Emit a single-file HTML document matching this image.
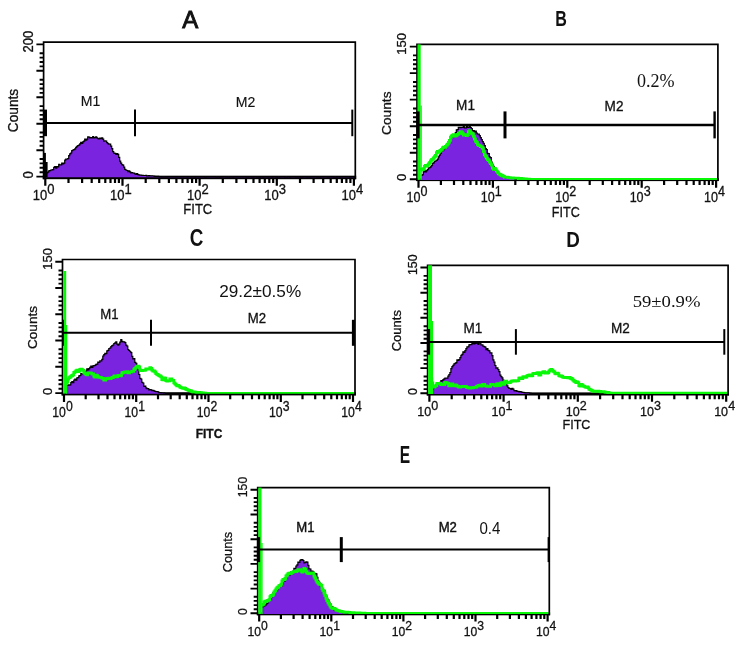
<!DOCTYPE html>
<html><head><meta charset="utf-8"><title>Flow cytometry histograms</title>
<style>
html,body{margin:0;padding:0;background:#fff;}
body{width:741px;height:651px;overflow:hidden;font-family:"Liberation Sans",sans-serif;}
svg{display:block;font-family:"Liberation Sans",sans-serif;fill:#111;will-change:transform;}
text{stroke:#111;stroke-width:0.3px;}
</style></head><body>
<svg width="741" height="651" viewBox="0 0 741 651">
<rect width="741" height="651" fill="#fff"/>
<rect x="42.8" y="175.7" width="313.4" height="3.5" fill="#000"/>
<path d="M45.7 177.3V172.4H46.7V172.9H47.7V172.2H48.7V170.8H49.7V170.7H50.7V170.0H51.7V169.9H52.7V169.7H53.7V167.4H54.7V166.7H55.7V168.1H56.7V166.6H57.7V166.8H58.7V164.3H59.7V164.9H60.7V165.0H61.7V163.0H62.7V164.0H63.7V163.1H64.7V160.1H65.7V159.1H66.7V159.0H67.7V158.6H68.7V155.7H69.7V153.9H70.7V153.0H71.7V150.6H72.7V150.0H73.7V149.6H74.7V148.9H75.7V147.3H76.7V146.4H77.7V145.5H78.7V145.2H79.7V143.9H80.7V142.3H81.7V143.4H82.7V141.8H83.7V141.1H84.7V139.0H85.7V140.1H86.7V139.1H87.7V136.9H88.7V137.2H89.7V137.8H90.7V137.5H91.7V137.8H92.7V136.5H93.7V137.8H94.7V137.6H95.7V136.8H96.7V137.8H97.7V138.7H98.7V138.8H99.7V138.2H100.7V138.7H101.7V137.9H102.7V139.1H103.7V141.2H104.7V140.9H105.7V141.0H106.7V142.6H107.7V143.6H108.7V144.2H109.7V144.2H110.7V146.2H111.7V148.6H112.7V151.6H113.7V153.2H114.7V153.4H115.7V154.3H116.7V153.7H117.7V154.3H118.7V157.3H119.7V161.1H120.7V163.1H121.7V164.7H122.7V165.2H123.7V167.1H124.7V169.4H125.7V170.0H126.7V170.5H127.7V171.7H128.7V170.9H129.7V171.8H130.7V172.9H131.7V172.7H132.7V173.0H133.7V173.2H134.7V173.9H135.7V174.5H136.7V173.7H137.7V174.7H138.7V174.9H139.7V175.1H140.7V175.1H141.7V175.4H142.7V175.4H143.7V175.5H144.7V175.5H145.7V175.3H146.7V175.8H147.7V175.8H148.7V175.6H149.7V175.9H150.7V175.9H151.7V175.9H152.7V176.0H153.7V176.1H154.7V176.3H155.7V176.3H156.7V176.4H157.7V176.4H158.7V176.5H159.7V176.6H160.7V176.7H161.7V176.8H162.7V176.8H163.7V176.8H164.7V176.8H165.7V176.7H166.7V176.8H167.7V176.7H168.7V176.6H169.7V176.6H170.7V176.6H171.7V176.7H172.7V176.7H173.7V176.6H174.7V176.7H175.7V176.7H176.7V176.6H177.7V176.6H178.7V176.7H179.7V176.6H180.7V176.7H181.7V176.7H182.7V176.7H183.7V176.7H184.7V176.7H185.7V176.6H186.7V176.7H187.7V176.7H188.7V176.6H189.7V176.6H190.7V176.8H191.7V176.7H192.7V176.6H193.7V176.7H194.7V176.8H195.7V176.6H196.7V176.6H197.7V176.6H198.7V176.7H199.7V176.6H200.7V176.7H201.7V176.7H202.7V176.7H203.7V176.6H204.7V176.8H205.7V176.8H206.7V176.7H207.7V176.6H208.7V176.7H209.7V176.7H210.7V176.7H211.7V176.7H212.7V176.7H213.7V176.6H214.7V176.7H215.7V176.8H216.7V176.8H217.7V176.7H218.7V176.8H219.7V176.7H220.7V176.8H221.7V176.7H222.7V176.7H223.7V176.7H224.7V176.6H225.7V176.8H226.7V176.6H227.7V176.8H228.7V176.8H229.7V176.7H230.7V176.6H231.7V176.8H232.7V176.8H233.7V176.7H234.7V176.7H235.7V176.7H236.7V176.7H237.7V176.6H238.7V176.7H239.7V176.7H240.7V176.6H241.7V176.6H242.7V176.7H243.7V176.7H244.7V176.7H245.7V176.7H246.7V176.8H247.7V176.8H248.7V176.6H249.7V176.6H250.7V176.7H251.7V176.8H252.7V176.8H253.7V176.7H254.7V176.6H255.7V176.7H256.7V176.8H257.7V176.8H258.7V176.7H259.7V176.8H260.7V176.7H261.7V176.7H262.7V176.8H263.7V176.7H264.7V176.7H265.7V176.6H266.7V176.6H267.7V176.8H268.7V176.6H269.7V176.7H270.7V176.7H271.7V176.8H272.7V176.7H273.7V176.7H274.7V176.7H275.7V176.8H276.7V176.7H277.7V176.8H278.7V176.8H279.7V176.6H280.7V176.7H281.7V176.6H282.7V176.6H283.7V176.6H284.7V176.8H285.7V176.8H286.7V176.8H287.7V176.7H288.7V176.7H289.7V176.8H290.7V176.7H291.7V176.7H292.7V176.6H293.7V176.6H294.7V176.7H295.7V176.8H296.7V176.7H297.7V176.8H298.7V176.7H299.7V176.7H300.7V176.8H301.7V176.8H302.7V176.6H303.7V176.7H304.7V176.6H305.7V176.6H306.7V176.8H307.7V176.6H308.7V176.7H309.7V176.8H310.7V176.7H311.7V176.6H312.7V176.6H313.7V176.7H314.7V176.7H315.7V176.6H316.7V176.8H317.7V176.7H318.7V176.8H319.7V176.8H320.7V176.7H321.7V176.7H322.7V176.7H323.7V176.6H324.7V176.7H325.7V176.6H326.7V176.6H327.7V176.8H328.7V176.7H329.7V176.7H330.7V176.7H331.7V176.7H332.7V176.6H333.7V176.8H334.7V176.8H335.7V176.8H336.7V176.6H337.7V176.6H338.7V176.7H339.7V176.8H340.7V176.7H341.7V176.7H342.7V176.7H343.7V176.7H344.7V176.7H345.7V176.7H346.7V176.7H347.7V176.6H348.7V176.7H349.7V176.8H350.7V176.7H351.7V176.7H352.7V176.7H353.7V176.8V177.3 Z" fill="#7a24e0" stroke="none"/>
<path d="M45.7 172.4H46.7V172.9H47.7V172.2H48.7V170.8H49.7V170.7H50.7V170.0H51.7V169.9H52.7V169.7H53.7V167.4H54.7V166.7H55.7V168.1H56.7V166.6H57.7V166.8H58.7V164.3H59.7V164.9H60.7V165.0H61.7V163.0H62.7V164.0H63.7V163.1H64.7V160.1H65.7V159.1H66.7V159.0H67.7V158.6H68.7V155.7H69.7V153.9H70.7V153.0H71.7V150.6H72.7V150.0H73.7V149.6H74.7V148.9H75.7V147.3H76.7V146.4H77.7V145.5H78.7V145.2H79.7V143.9H80.7V142.3H81.7V143.4H82.7V141.8H83.7V141.1H84.7V139.0H85.7V140.1H86.7V139.1H87.7V136.9H88.7V137.2H89.7V137.8H90.7V137.5H91.7V137.8H92.7V136.5H93.7V137.8H94.7V137.6H95.7V136.8H96.7V137.8H97.7V138.7H98.7V138.8H99.7V138.2H100.7V138.7H101.7V137.9H102.7V139.1H103.7V141.2H104.7V140.9H105.7V141.0H106.7V142.6H107.7V143.6H108.7V144.2H109.7V144.2H110.7V146.2H111.7V148.6H112.7V151.6H113.7V153.2H114.7V153.4H115.7V154.3H116.7V153.7H117.7V154.3H118.7V157.3H119.7V161.1H120.7V163.1H121.7V164.7H122.7V165.2H123.7V167.1H124.7V169.4H125.7V170.0H126.7V170.5H127.7V171.7H128.7V170.9H129.7V171.8H130.7V172.9H131.7V172.7H132.7V173.0H133.7V173.2H134.7V173.9H135.7V174.5H136.7V173.7H137.7V174.7H138.7V174.9H139.7V175.1H140.7V175.1H141.7V175.4H142.7V175.4H143.7V175.5H144.7V175.5H145.7V175.3H146.7V175.8H147.7V175.8H148.7V175.6H149.7V175.9H150.7V175.9H151.7V175.9H152.7V176.0H153.7V176.1H154.7V176.3H155.7V176.3H156.7V176.4H157.7V176.4H158.7V176.5H159.7V176.6H160.7V176.7H161.7V176.8H162.7V176.8H163.7V176.8H164.7V176.8H165.7V176.7H166.7V176.8H167.7V176.7H168.7V176.6H169.7V176.6H170.7V176.6H171.7V176.7H172.7V176.7H173.7V176.6H174.7V176.7H175.7V176.7H176.7V176.6H177.7V176.6H178.7V176.7H179.7V176.6H180.7V176.7H181.7V176.7H182.7V176.7H183.7V176.7H184.7V176.7H185.7V176.6H186.7V176.7H187.7V176.7H188.7V176.6H189.7V176.6H190.7V176.8H191.7V176.7H192.7V176.6H193.7V176.7H194.7V176.8H195.7V176.6H196.7V176.6H197.7V176.6H198.7V176.7H199.7V176.6H200.7V176.7H201.7V176.7H202.7V176.7H203.7V176.6H204.7V176.8H205.7V176.8H206.7V176.7H207.7V176.6H208.7V176.7H209.7V176.7H210.7V176.7H211.7V176.7H212.7V176.7H213.7V176.6H214.7V176.7H215.7V176.8H216.7V176.8H217.7V176.7H218.7V176.8H219.7V176.7H220.7V176.8H221.7V176.7H222.7V176.7H223.7V176.7H224.7V176.6H225.7V176.8H226.7V176.6H227.7V176.8H228.7V176.8H229.7V176.7H230.7V176.6H231.7V176.8H232.7V176.8H233.7V176.7H234.7V176.7H235.7V176.7H236.7V176.7H237.7V176.6H238.7V176.7H239.7V176.7H240.7V176.6H241.7V176.6H242.7V176.7H243.7V176.7H244.7V176.7H245.7V176.7H246.7V176.8H247.7V176.8H248.7V176.6H249.7V176.6H250.7V176.7H251.7V176.8H252.7V176.8H253.7V176.7H254.7V176.6H255.7V176.7H256.7V176.8H257.7V176.8H258.7V176.7H259.7V176.8H260.7V176.7H261.7V176.7H262.7V176.8H263.7V176.7H264.7V176.7H265.7V176.6H266.7V176.6H267.7V176.8H268.7V176.6H269.7V176.7H270.7V176.7H271.7V176.8H272.7V176.7H273.7V176.7H274.7V176.7H275.7V176.8H276.7V176.7H277.7V176.8H278.7V176.8H279.7V176.6H280.7V176.7H281.7V176.6H282.7V176.6H283.7V176.6H284.7V176.8H285.7V176.8H286.7V176.8H287.7V176.7H288.7V176.7H289.7V176.8H290.7V176.7H291.7V176.7H292.7V176.6H293.7V176.6H294.7V176.7H295.7V176.8H296.7V176.7H297.7V176.8H298.7V176.7H299.7V176.7H300.7V176.8H301.7V176.8H302.7V176.6H303.7V176.7H304.7V176.6H305.7V176.6H306.7V176.8H307.7V176.6H308.7V176.7H309.7V176.8H310.7V176.7H311.7V176.6H312.7V176.6H313.7V176.7H314.7V176.7H315.7V176.6H316.7V176.8H317.7V176.7H318.7V176.8H319.7V176.8H320.7V176.7H321.7V176.7H322.7V176.7H323.7V176.6H324.7V176.7H325.7V176.6H326.7V176.6H327.7V176.8H328.7V176.7H329.7V176.7H330.7V176.7H331.7V176.7H332.7V176.6H333.7V176.8H334.7V176.8H335.7V176.8H336.7V176.6H337.7V176.6H338.7V176.7H339.7V176.8H340.7V176.7H341.7V176.7H342.7V176.7H343.7V176.7H344.7V176.7H345.7V176.7H346.7V176.7H347.7V176.6H348.7V176.7H349.7V176.8H350.7V176.7H351.7V176.7H352.7V176.7H353.7V176.8" fill="none" stroke="#000" stroke-width="1.2"/>
<path d="M43.6 179.2 V42.2 H355.3 V179.2" fill="none" stroke="#000" stroke-width="1.70"/>
<path d="M45.3 178.7 V185.8M68.5 178.7 V183.1M82.1 178.7 V183.1M91.7 178.7 V183.1M99.2 178.7 V183.1M105.3 178.7 V183.1M110.5 178.7 V183.1M115.0 178.7 V183.1M118.9 178.7 V183.1M122.5 178.7 V185.8M145.7 178.7 V183.1M159.3 178.7 V183.1M168.9 178.7 V183.1M176.4 178.7 V183.1M182.5 178.7 V183.1M187.6 178.7 V183.1M192.1 178.7 V183.1M196.1 178.7 V183.1M199.6 178.7 V185.8M222.8 178.7 V183.1M236.4 178.7 V183.1M246.0 178.7 V183.1M253.5 178.7 V183.1M259.6 178.7 V183.1M264.8 178.7 V183.1M269.3 178.7 V183.1M273.2 178.7 V183.1M276.8 178.7 V185.8M300.0 178.7 V183.1M313.6 178.7 V183.1M323.2 178.7 V183.1M330.7 178.7 V183.1M336.8 178.7 V183.1M341.9 178.7 V183.1M346.4 178.7 V183.1M350.4 178.7 V183.1M353.9 178.7 V185.8" stroke="#000" stroke-width="2.20" fill="none"/>
<text transform="translate(32.80 200.10) scale(0.930 1.001)" font-size="14" text-anchor="start">10</text>
<text transform="translate(47.30 193.80) scale(0.930 1.001)" font-size="14" text-anchor="start">0</text>
<text transform="translate(109.95 200.10) scale(0.930 1.001)" font-size="14" text-anchor="start">10</text>
<text transform="translate(124.45 193.80) scale(0.930 1.001)" font-size="14" text-anchor="start">1</text>
<text transform="translate(187.10 200.10) scale(0.930 1.001)" font-size="14" text-anchor="start">10</text>
<text transform="translate(201.60 193.80) scale(0.930 1.001)" font-size="14" text-anchor="start">2</text>
<text transform="translate(264.25 200.10) scale(0.930 1.001)" font-size="14" text-anchor="start">10</text>
<text transform="translate(278.75 193.80) scale(0.930 1.001)" font-size="14" text-anchor="start">3</text>
<text transform="translate(341.40 200.10) scale(0.930 1.001)" font-size="14" text-anchor="start">10</text>
<text transform="translate(355.90 193.80) scale(0.930 1.001)" font-size="14" text-anchor="start">4</text>
<path d="M43.6 176.6 h-7.2M43.6 172.2 h-4.0M43.6 167.8 h-4.0M43.6 163.4 h-4.0M43.6 159.0 h-4.0M43.6 150.2 h-7.2M43.6 145.8 h-4.0M43.6 141.3 h-4.0M43.6 136.9 h-4.0M43.6 132.5 h-4.0M43.6 123.7 h-7.2M43.6 119.3 h-4.0M43.6 114.9 h-4.0M43.6 110.5 h-4.0M43.6 106.1 h-4.0M43.6 97.3 h-7.2M43.6 92.9 h-4.0M43.6 88.5 h-4.0M43.6 84.1 h-4.0M43.6 79.7 h-4.0M43.6 70.8 h-7.2M43.6 66.4 h-4.0M43.6 62.0 h-4.0M43.6 57.6 h-4.0M43.6 53.2 h-4.0M43.6 44.4 h-7.2" stroke="#000" stroke-width="1.90" fill="none"/>
<text transform="translate(32.60 41.60) scale(1.000 0.931) rotate(-90)" font-size="14" text-anchor="middle">200</text>
<text transform="translate(32.60 174.90) scale(1.000 0.931) rotate(-90)" font-size="14" text-anchor="middle">0</text>
<text transform="translate(17.50 110.50) scale(1.000 0.977) rotate(-90)" font-size="14" text-anchor="middle">Counts</text>
<rect x="43.4" y="152.9" width="2.5" height="24.4" fill="#000"/>
<rect x="43.4" y="162.0" width="4.2" height="15.3" fill="#000"/>
<path d="M45.2 122.9 H352.3" stroke="#000" stroke-width="2.00"/>
<path d="M45.2 109.6 v26.6" stroke="#000" stroke-width="3.6"/>
<path d="M135.0 109.6 v26.6" stroke="#000" stroke-width="2.00"/>
<path d="M352.3 109.6 v26.6" stroke="#000" stroke-width="2.0"/>
<text transform="translate(90.50 106.00) scale(1.005 1.051)" font-size="14" text-anchor="middle" style="stroke-width:0.15px">M1</text>
<text transform="translate(245.50 106.50) scale(1.005 1.051)" font-size="14" text-anchor="middle" style="stroke-width:0.15px">M2</text>
<text transform="translate(197.80 214.00) scale(0.930 1.001)" font-size="14" text-anchor="middle">FITC</text>
<rect x="416.1" y="178.3" width="302.6" height="2.8" fill="#000"/>
<path d="M421.3 179.9V175.4H422.3V174.6H423.3V171.8H424.3V170.9H425.3V171.9H426.3V170.7H427.3V169.7H428.3V167.9H429.3V167.7H430.3V166.8H431.3V165.7H432.3V163.4H433.3V162.8H434.3V161.4H435.3V161.0H436.3V160.4H437.3V159.1H438.3V156.8H439.3V155.2H440.3V153.3H441.3V151.4H442.3V150.0H443.3V149.7H444.3V147.9H445.3V146.7H446.3V146.6H447.3V144.3H448.3V142.9H449.3V140.5H450.3V138.4H451.3V137.5H452.3V135.5H453.3V134.8H454.3V134.7H455.3V132.5H456.3V129.8H457.3V129.5H458.3V127.4H459.3V127.3H460.3V127.7H461.3V127.4H462.3V127.4H463.3V126.3H464.3V127.9H465.3V127.9H466.3V125.9H467.3V127.3H468.3V127.2H469.3V126.6H470.3V127.5H471.3V128.7H472.3V131.0H473.3V130.6H474.3V131.9H475.3V131.2H476.3V133.0H477.3V134.2H478.3V134.2H479.3V135.7H480.3V137.7H481.3V139.6H482.3V141.7H483.3V143.3H484.3V145.7H485.3V148.7H486.3V149.5H487.3V153.3H488.3V153.5H489.3V156.9H490.3V157.5H491.3V162.0H492.3V164.3H493.3V166.4H494.3V167.9H495.3V169.8H496.3V171.1H497.3V171.9H498.3V173.3H499.3V174.8H500.3V175.8H501.3V175.7H502.3V175.4H503.3V176.7H504.3V176.9H505.3V177.4H506.3V177.2H507.3V177.8H508.3V177.4H509.3V178.0H510.3V177.9H511.3V178.0H512.3V178.4H513.3V178.2H514.3V178.5V179.9 Z" fill="#7a24e0" stroke="none"/>
<path d="M421.3 175.4H422.3V174.6H423.3V171.8H424.3V170.9H425.3V171.9H426.3V170.7H427.3V169.7H428.3V167.9H429.3V167.7H430.3V166.8H431.3V165.7H432.3V163.4H433.3V162.8H434.3V161.4H435.3V161.0H436.3V160.4H437.3V159.1H438.3V156.8H439.3V155.2H440.3V153.3H441.3V151.4H442.3V150.0H443.3V149.7H444.3V147.9H445.3V146.7H446.3V146.6H447.3V144.3H448.3V142.9H449.3V140.5H450.3V138.4H451.3V137.5H452.3V135.5H453.3V134.8H454.3V134.7H455.3V132.5H456.3V129.8H457.3V129.5H458.3V127.4H459.3V127.3H460.3V127.7H461.3V127.4H462.3V127.4H463.3V126.3H464.3V127.9H465.3V127.9H466.3V125.9H467.3V127.3H468.3V127.2H469.3V126.6H470.3V127.5H471.3V128.7H472.3V131.0H473.3V130.6H474.3V131.9H475.3V131.2H476.3V133.0H477.3V134.2H478.3V134.2H479.3V135.7H480.3V137.7H481.3V139.6H482.3V141.7H483.3V143.3H484.3V145.7H485.3V148.7H486.3V149.5H487.3V153.3H488.3V153.5H489.3V156.9H490.3V157.5H491.3V162.0H492.3V164.3H493.3V166.4H494.3V167.9H495.3V169.8H496.3V171.1H497.3V171.9H498.3V173.3H499.3V174.8H500.3V175.8H501.3V175.7H502.3V175.4H503.3V176.7H504.3V176.9H505.3V177.4H506.3V177.2H507.3V177.8H508.3V177.4H509.3V178.0H510.3V177.9H511.3V178.0H512.3V178.4H513.3V178.2H514.3V178.5" fill="none" stroke="#000" stroke-width="1.2"/>
<path d="M417.0 181.1 V44.4 H717.9 V181.1" fill="none" stroke="#000" stroke-width="1.70"/>
<path d="M418.5 180.6 V187.7M440.9 180.6 V185.0M454.0 180.6 V185.0M463.3 180.6 V185.0M470.5 180.6 V185.0M476.4 180.6 V185.0M481.4 180.6 V185.0M485.7 180.6 V185.0M489.5 180.6 V185.0M492.9 180.6 V187.7M515.3 180.6 V185.0M528.4 180.6 V185.0M537.7 180.6 V185.0M544.9 180.6 V185.0M550.8 180.6 V185.0M555.8 180.6 V185.0M560.1 180.6 V185.0M563.9 180.6 V185.0M567.3 180.6 V187.7M589.7 180.6 V185.0M602.8 180.6 V185.0M612.1 180.6 V185.0M619.3 180.6 V185.0M625.2 180.6 V185.0M630.2 180.6 V185.0M634.5 180.6 V185.0M638.3 180.6 V185.0M641.7 180.6 V187.7M664.1 180.6 V185.0M677.2 180.6 V185.0M686.5 180.6 V185.0M693.7 180.6 V185.0M699.6 180.6 V185.0M704.6 180.6 V185.0M708.9 180.6 V185.0M712.7 180.6 V185.0M716.1 180.6 V187.7" stroke="#000" stroke-width="2.20" fill="none"/>
<text transform="translate(406.43 202.00) scale(0.898 1.004)" font-size="14" text-anchor="start">10</text>
<text transform="translate(420.43 195.68) scale(0.898 1.004)" font-size="14" text-anchor="start">0</text>
<text transform="translate(480.83 202.00) scale(0.898 1.004)" font-size="14" text-anchor="start">10</text>
<text transform="translate(494.83 195.68) scale(0.898 1.004)" font-size="14" text-anchor="start">1</text>
<text transform="translate(555.23 202.00) scale(0.898 1.004)" font-size="14" text-anchor="start">10</text>
<text transform="translate(569.23 195.68) scale(0.898 1.004)" font-size="14" text-anchor="start">2</text>
<text transform="translate(629.63 202.00) scale(0.898 1.004)" font-size="14" text-anchor="start">10</text>
<text transform="translate(643.63 195.68) scale(0.898 1.004)" font-size="14" text-anchor="start">3</text>
<text transform="translate(704.03 202.00) scale(0.898 1.004)" font-size="14" text-anchor="start">10</text>
<text transform="translate(718.03 195.68) scale(0.898 1.004)" font-size="14" text-anchor="start">4</text>
<path d="M417.0 179.2 h-7.2M417.0 174.8 h-4.0M417.0 170.4 h-4.0M417.0 165.9 h-4.0M417.0 161.5 h-4.0M417.0 152.7 h-7.2M417.0 148.3 h-4.0M417.0 143.8 h-4.0M417.0 139.4 h-4.0M417.0 135.0 h-4.0M417.0 126.2 h-7.2M417.0 121.7 h-4.0M417.0 117.3 h-4.0M417.0 112.9 h-4.0M417.0 108.5 h-4.0M417.0 99.6 h-7.2M417.0 95.2 h-4.0M417.0 90.8 h-4.0M417.0 86.4 h-4.0M417.0 82.0 h-4.0M417.0 73.1 h-7.2M417.0 68.7 h-4.0M417.0 64.3 h-4.0M417.0 59.9 h-4.0M417.0 55.4 h-4.0M417.0 46.6 h-7.2" stroke="#000" stroke-width="1.90" fill="none"/>
<text transform="translate(406.20 43.80) scale(0.966 0.933) rotate(-90)" font-size="14" text-anchor="middle">150</text>
<text transform="translate(406.20 177.50) scale(0.966 0.933) rotate(-90)" font-size="14" text-anchor="middle">0</text>
<text transform="translate(390.50 113.20) scale(0.966 0.980) rotate(-90)" font-size="14" text-anchor="middle">Counts</text>
<clipPath id="clipB"><rect x="414.0" y="41.4" width="306.9" height="138.5"/></clipPath>
<g clip-path="url(#clipB)">
<path d="M420.4 170.0H421.4V169.1H422.4V169.5H423.4V168.6H424.4V166.3H425.4V165.3H426.4V166.0H427.4V165.1H428.4V163.8H429.4V162.7H430.4V160.9H431.4V159.7H432.4V159.2H433.4V158.0H434.4V156.7H435.4V155.5H436.4V152.7H437.4V151.5H438.4V152.0H439.4V151.0H440.4V150.3H441.4V149.3H442.4V148.0H443.4V147.1H444.4V147.3H445.4V146.4H446.4V145.1H447.4V144.2H448.4V142.3H449.4V140.3H450.4V137.2H451.4V135.8H452.4V135.1H453.4V134.6H454.4V136.2H455.4V135.8H456.4V135.0H457.4V134.4H458.4V133.5H459.4V132.8H460.4V131.7H461.4V132.1H462.4V133.7H463.4V135.2H464.4V134.7H465.4V134.7H466.4V135.6H467.4V134.8H468.4V131.6H469.4V130.7H470.4V132.7H471.4V133.3H472.4V133.9H473.4V136.4H474.4V139.0H475.4V141.4H476.4V142.4H477.4V144.6H478.4V145.3H479.4V145.6H480.4V146.6H481.4V146.9H482.4V148.2H483.4V151.6H484.4V154.8H485.4V156.3H486.4V158.2H487.4V159.6H488.4V160.3H489.4V162.0H490.4V163.6H491.4V165.2H492.4V168.0H493.4V169.3H494.4V168.4H495.4V169.7H496.4V171.2H497.4V172.3H498.4V173.8H499.4V174.3H500.4V175.0H501.4V175.5H502.4V175.8H503.4V176.4H504.4V177.1H505.4V177.2H506.4V177.2H507.4V177.3H508.4V177.6H509.4V177.7H510.4V177.9H511.4V178.0H512.4V178.0H513.4V178.1H514.4V178.1H515.4V178.1H516.4V178.1H517.4V178.2H518.4V178.5H519.4V178.6H520.4V178.5H521.4V178.6H522.4V178.7H523.4V178.8H524.4V179.0H525.4V179.0H526.4V179.1H527.4V179.2H528.4V179.2H529.4V179.3H717.0" fill="none" stroke="#08f808" stroke-width="2.8" stroke-linejoin="miter"/>
<rect x="417.6" y="44.4" width="3.1" height="135.5" fill="#08f808"/>
<rect x="420.5" y="105.6" width="1.3" height="74.3" fill="#08f808"/>
</g>
<path d="M418.0 124.9 H714.6" stroke="#000" stroke-width="2.50"/>
<path d="M418.0 111.4 v27.0" stroke="#000" stroke-width="3.2"/>
<path d="M505.0 111.4 v27.0" stroke="#000" stroke-width="3.00"/>
<path d="M714.6 111.4 v27.0" stroke="#000" stroke-width="2.4"/>
<text transform="translate(465.50 110.00) scale(0.970 1.054)" font-size="14" text-anchor="middle" style="stroke-width:0.3px">M1</text>
<text transform="translate(614.00 111.00) scale(0.970 1.054)" font-size="14" text-anchor="middle" style="stroke-width:0.3px">M2</text>
<text transform="translate(565.80 217.00) scale(0.898 1.004)" font-size="14" text-anchor="middle">FITC</text>
<text x="637" y="86.6" font-family="Liberation Serif" font-size="18" textLength="37.6" lengthAdjust="spacingAndGlyphs" style="stroke-width:0">0.2%</text>
<rect x="61.6" y="392.2" width="294.2" height="3.2" fill="#000"/>
<path d="M65.8 393.8V384.9H66.8V385.5H67.8V384.8H68.8V385.1H69.8V384.9H70.8V382.7H71.8V381.6H72.8V382.7H73.8V380.2H74.8V379.2H75.8V380.1H76.8V377.8H77.8V377.7H78.8V375.8H79.8V375.5H80.8V373.5H81.8V374.0H82.8V373.8H83.8V372.2H84.8V372.0H85.8V371.0H86.8V368.8H87.8V369.8H88.8V368.7H89.8V367.3H90.8V366.0H91.8V367.4H92.8V365.8H93.8V365.7H94.8V365.4H95.8V364.3H96.8V364.2H97.8V362.2H98.8V362.5H99.8V360.9H100.8V361.0H101.8V359.4H102.8V356.0H103.8V354.6H104.8V353.3H105.8V353.7H106.8V350.8H107.8V350.3H108.8V348.5H109.8V348.0H110.8V346.7H111.8V345.6H112.8V345.0H113.8V343.5H114.8V342.9H115.8V341.9H116.8V344.2H117.8V345.1H118.8V344.2H119.8V342.1H120.8V339.5H121.8V341.3H122.8V341.8H123.8V341.8H124.8V342.6H125.8V345.1H126.8V346.0H127.8V349.5H128.8V350.5H129.8V351.5H130.8V352.7H131.8V356.4H132.8V358.8H133.8V358.5H134.8V362.3H135.8V363.4H136.8V365.9H137.8V369.8H138.8V374.5H139.8V378.3H140.8V379.0H141.8V382.4H142.8V383.0H143.8V386.3H144.8V386.0H145.8V387.9H146.8V388.7H147.8V388.5H148.8V389.9H149.8V389.6H150.8V389.8H151.8V390.6H152.8V390.3H153.8V390.8H154.8V391.3H155.8V391.7H156.8V391.7H157.8V391.9H158.8V392.6H159.8V392.5H160.8V392.9H161.8V393.0H162.8V393.0H163.8V393.1H164.8V393.3V393.8 Z" fill="#7a24e0" stroke="none"/>
<path d="M65.8 384.9H66.8V385.5H67.8V384.8H68.8V385.1H69.8V384.9H70.8V382.7H71.8V381.6H72.8V382.7H73.8V380.2H74.8V379.2H75.8V380.1H76.8V377.8H77.8V377.7H78.8V375.8H79.8V375.5H80.8V373.5H81.8V374.0H82.8V373.8H83.8V372.2H84.8V372.0H85.8V371.0H86.8V368.8H87.8V369.8H88.8V368.7H89.8V367.3H90.8V366.0H91.8V367.4H92.8V365.8H93.8V365.7H94.8V365.4H95.8V364.3H96.8V364.2H97.8V362.2H98.8V362.5H99.8V360.9H100.8V361.0H101.8V359.4H102.8V356.0H103.8V354.6H104.8V353.3H105.8V353.7H106.8V350.8H107.8V350.3H108.8V348.5H109.8V348.0H110.8V346.7H111.8V345.6H112.8V345.0H113.8V343.5H114.8V342.9H115.8V341.9H116.8V344.2H117.8V345.1H118.8V344.2H119.8V342.1H120.8V339.5H121.8V341.3H122.8V341.8H123.8V341.8H124.8V342.6H125.8V345.1H126.8V346.0H127.8V349.5H128.8V350.5H129.8V351.5H130.8V352.7H131.8V356.4H132.8V358.8H133.8V358.5H134.8V362.3H135.8V363.4H136.8V365.9H137.8V369.8H138.8V374.5H139.8V378.3H140.8V379.0H141.8V382.4H142.8V383.0H143.8V386.3H144.8V386.0H145.8V387.9H146.8V388.7H147.8V388.5H148.8V389.9H149.8V389.6H150.8V389.8H151.8V390.6H152.8V390.3H153.8V390.8H154.8V391.3H155.8V391.7H156.8V391.7H157.8V391.9H158.8V392.6H159.8V392.5H160.8V392.9H161.8V393.0H162.8V393.0H163.8V393.1H164.8V393.3" fill="none" stroke="#000" stroke-width="1.2"/>
<path d="M62.5 395.4 V259.5 H355.0 V395.4" fill="none" stroke="#000" stroke-width="1.70"/>
<path d="M64.0 394.9 V402.0M85.7 394.9 V399.3M98.5 394.9 V399.3M107.5 394.9 V399.3M114.5 394.9 V399.3M120.2 394.9 V399.3M125.1 394.9 V399.3M129.2 394.9 V399.3M132.9 394.9 V399.3M136.2 394.9 V402.0M158.0 394.9 V399.3M170.7 394.9 V399.3M179.7 394.9 V399.3M186.8 394.9 V399.3M192.5 394.9 V399.3M197.3 394.9 V399.3M201.5 394.9 V399.3M205.2 394.9 V399.3M208.5 394.9 V402.0M230.2 394.9 V399.3M243.0 394.9 V399.3M252.0 394.9 V399.3M259.0 394.9 V399.3M264.7 394.9 V399.3M269.6 394.9 V399.3M273.7 394.9 V399.3M277.4 394.9 V399.3M280.8 394.9 V402.0M302.5 394.9 V399.3M315.2 394.9 V399.3M324.2 394.9 V399.3M331.3 394.9 V399.3M337.0 394.9 V399.3M341.8 394.9 V399.3M346.0 394.9 V399.3M349.7 394.9 V399.3M353.0 394.9 V402.0" stroke="#000" stroke-width="2.20" fill="none"/>
<text transform="translate(52.27 416.80) scale(0.873 0.995)" font-size="14" text-anchor="start">10</text>
<text transform="translate(65.88 410.53) scale(0.873 0.995)" font-size="14" text-anchor="start">0</text>
<text transform="translate(124.52 416.80) scale(0.873 0.995)" font-size="14" text-anchor="start">10</text>
<text transform="translate(138.13 410.53) scale(0.873 0.995)" font-size="14" text-anchor="start">1</text>
<text transform="translate(196.77 416.80) scale(0.873 0.995)" font-size="14" text-anchor="start">10</text>
<text transform="translate(210.38 410.53) scale(0.873 0.995)" font-size="14" text-anchor="start">2</text>
<text transform="translate(269.02 416.80) scale(0.873 0.995)" font-size="14" text-anchor="start">10</text>
<text transform="translate(282.63 410.53) scale(0.873 0.995)" font-size="14" text-anchor="start">3</text>
<text transform="translate(341.27 416.80) scale(0.873 0.995)" font-size="14" text-anchor="start">10</text>
<text transform="translate(354.88 410.53) scale(0.873 0.995)" font-size="14" text-anchor="start">4</text>
<path d="M62.5 393.1 h-7.2M62.5 388.7 h-4.0M62.5 384.3 h-4.0M62.5 380.0 h-4.0M62.5 375.6 h-4.0M62.5 366.8 h-7.2M62.5 362.4 h-4.0M62.5 358.1 h-4.0M62.5 353.7 h-4.0M62.5 349.3 h-4.0M62.5 340.5 h-7.2M62.5 336.2 h-4.0M62.5 331.8 h-4.0M62.5 327.4 h-4.0M62.5 323.0 h-4.0M62.5 314.3 h-7.2M62.5 309.9 h-4.0M62.5 305.5 h-4.0M62.5 301.1 h-4.0M62.5 296.7 h-4.0M62.5 288.0 h-7.2M62.5 283.6 h-4.0M62.5 279.2 h-4.0M62.5 274.8 h-4.0M62.5 270.5 h-4.0M62.5 261.7 h-7.2" stroke="#000" stroke-width="1.90" fill="none"/>
<text transform="translate(52.20 258.90) scale(0.939 0.925) rotate(-90)" font-size="14" text-anchor="middle">150</text>
<text transform="translate(52.20 391.40) scale(0.939 0.925) rotate(-90)" font-size="14" text-anchor="middle">0</text>
<text transform="translate(37.20 327.50) scale(0.939 0.971) rotate(-90)" font-size="14" text-anchor="middle">Counts</text>
<clipPath id="clipC"><rect x="59.5" y="256.5" width="298.5" height="137.3"/></clipPath>
<g clip-path="url(#clipC)">
<path d="M65.8 383.7H66.8V382.2H67.8V379.2H68.8V377.7H69.8V377.0H70.8V376.1H71.8V375.5H72.8V374.8H73.8V372.5H74.8V371.9H75.8V370.8H76.8V370.2H77.8V371.5H78.8V371.2H79.8V369.5H80.8V369.2H81.8V369.7H82.8V370.3H83.8V372.7H84.8V373.6H85.8V374.4H86.8V374.9H87.8V372.8H88.8V373.0H89.8V373.0H90.8V373.2H91.8V373.8H92.8V374.0H93.8V376.4H94.8V377.0H95.8V375.2H96.8V375.7H97.8V376.9H98.8V377.4H99.8V377.4H100.8V377.7H101.8V378.1H102.8V378.4H103.8V380.0H104.8V380.2H105.8V378.8H106.8V378.3H107.8V378.6H108.8V378.1H109.8V378.7H110.8V378.2H111.8V377.7H112.8V377.4H113.8V376.2H114.8V375.9H115.8V376.8H116.8V376.5H117.8V375.6H118.8V375.3H119.8V375.8H120.8V375.3H121.8V373.0H122.8V372.5H123.8V372.4H124.8V371.9H125.8V372.0H126.8V371.7H127.8V372.8H128.8V372.8H129.8V371.9H130.8V371.9H131.8V371.4H132.8V371.3H133.8V369.5H134.8V368.4H135.8V367.4H136.8V366.3H137.8V366.2H138.8V366.9H139.8V369.8H140.8V370.5H141.8V370.5H142.8V370.4H143.8V370.3H144.8V370.1H145.8V368.9H146.8V368.8H147.8V369.2H148.8V369.1H149.8V367.7H150.8V368.5H151.8V370.0H152.8V371.0H153.8V371.0H154.8V372.0H155.8V373.6H156.8V374.4H157.8V374.8H158.8V375.6H159.8V376.0H160.8V376.8H161.8V379.6H162.8V379.9H163.8V377.8H164.8V378.1H165.8V380.6H166.8V381.0H167.8V380.8H168.8V380.8H169.8V379.0H170.8V379.0H171.8V380.2H172.8V380.3H173.8V382.8H174.8V383.8H175.8V384.8H176.8V385.8H177.8V385.5H178.8V386.1H179.8V387.1H180.8V387.6H181.8V387.9H182.8V388.3H183.8V388.0H184.8V388.5H185.8V389.3H186.8V389.7H187.8V390.1H188.8V390.5H189.8V390.6H190.8V391.0H191.8V391.7H192.8V392.0H193.8V392.0H194.8V392.1H195.8V392.4H196.8V392.5H197.8V392.3H198.8V392.4H199.8V392.6H200.8V392.7H201.8V392.8H202.8V392.9H203.8V393.1H204.8V393.2H205.8V393.3H354.1" fill="none" stroke="#08f808" stroke-width="2.8" stroke-linejoin="miter"/>
<rect x="63.1" y="271.0" width="3.1" height="122.8" fill="#08f808"/>
<rect x="66.0" y="325.0" width="1.3" height="68.8" fill="#08f808"/>
</g>
<path d="M63.0 332.8 H353.4" stroke="#000" stroke-width="2.00"/>
<path d="M63.0 319.8 v26.0" stroke="#000" stroke-width="1.8"/>
<path d="M151.0 319.8 v26.0" stroke="#000" stroke-width="2.00"/>
<path d="M353.4 319.8 v26.0" stroke="#000" stroke-width="3.0"/>
<text transform="translate(109.50 319.00) scale(0.943 1.045)" font-size="14" text-anchor="middle" style="stroke-width:0.3px">M1</text>
<text transform="translate(257.00 323.00) scale(0.943 1.045)" font-size="14" text-anchor="middle" style="stroke-width:0.3px">M2</text>
<text x="209.0" y="438.0" text-anchor="middle" font-size="13" font-weight="bold" textLength="26.6" lengthAdjust="spacingAndGlyphs" style="stroke-width:0.35px">FITC</text>
<text x="219.2" y="297" font-size="16.5" textLength="82" lengthAdjust="spacingAndGlyphs" style="stroke-width:0">29.2±0.5%</text>
<rect x="426.8" y="392.4" width="302.2" height="3.1" fill="#000"/>
<path d="M431.9 394.0V389.1H432.9V387.8H433.9V387.3H434.9V385.6H435.9V384.4H436.9V384.2H437.9V384.5H438.9V383.2H439.9V382.3H440.9V380.5H441.9V380.8H442.9V379.6H443.9V378.9H444.9V378.2H445.9V378.0H446.9V378.1H447.9V376.2H448.9V374.6H449.9V372.5H450.9V368.7H451.9V366.7H452.9V365.3H453.9V363.9H454.9V363.4H455.9V362.6H456.9V359.9H457.9V360.4H458.9V359.7H459.9V357.7H460.9V355.3H461.9V354.4H462.9V351.8H463.9V352.3H464.9V350.7H465.9V348.7H466.9V346.8H467.9V347.0H468.9V344.9H469.9V344.7H470.9V344.6H471.9V343.7H472.9V343.5H473.9V343.9H474.9V343.5H475.9V342.9H476.9V343.2H477.9V344.5H478.9V342.6H479.9V342.9H480.9V345.0H481.9V344.9H482.9V346.2H483.9V346.7H484.9V347.1H485.9V349.7H486.9V348.7H487.9V350.3H488.9V350.8H489.9V352.8H490.9V352.9H491.9V355.6H492.9V359.9H493.9V362.2H494.9V365.5H495.9V368.2H496.9V367.9H497.9V369.5H498.9V371.7H499.9V375.1H500.9V376.7H501.9V377.8H502.9V380.1H503.9V381.0H504.9V382.9H505.9V383.1H506.9V385.9H507.9V387.5H508.9V388.4H509.9V388.5H510.9V389.3H511.9V388.3H512.9V389.2H513.9V390.6H514.9V390.8H515.9V390.7H516.9V391.5H517.9V391.4H518.9V391.8H519.9V391.7H520.9V391.9H521.9V392.3H522.9V392.4H523.9V392.7H524.9V393.0H525.9V392.8H526.9V392.8H527.9V392.9H528.9V393.0H529.9V393.3H530.9V393.3H531.9V393.3V394.0 Z" fill="#7a24e0" stroke="none"/>
<path d="M431.9 389.1H432.9V387.8H433.9V387.3H434.9V385.6H435.9V384.4H436.9V384.2H437.9V384.5H438.9V383.2H439.9V382.3H440.9V380.5H441.9V380.8H442.9V379.6H443.9V378.9H444.9V378.2H445.9V378.0H446.9V378.1H447.9V376.2H448.9V374.6H449.9V372.5H450.9V368.7H451.9V366.7H452.9V365.3H453.9V363.9H454.9V363.4H455.9V362.6H456.9V359.9H457.9V360.4H458.9V359.7H459.9V357.7H460.9V355.3H461.9V354.4H462.9V351.8H463.9V352.3H464.9V350.7H465.9V348.7H466.9V346.8H467.9V347.0H468.9V344.9H469.9V344.7H470.9V344.6H471.9V343.7H472.9V343.5H473.9V343.9H474.9V343.5H475.9V342.9H476.9V343.2H477.9V344.5H478.9V342.6H479.9V342.9H480.9V345.0H481.9V344.9H482.9V346.2H483.9V346.7H484.9V347.1H485.9V349.7H486.9V348.7H487.9V350.3H488.9V350.8H489.9V352.8H490.9V352.9H491.9V355.6H492.9V359.9H493.9V362.2H494.9V365.5H495.9V368.2H496.9V367.9H497.9V369.5H498.9V371.7H499.9V375.1H500.9V376.7H501.9V377.8H502.9V380.1H503.9V381.0H504.9V382.9H505.9V383.1H506.9V385.9H507.9V387.5H508.9V388.4H509.9V388.5H510.9V389.3H511.9V388.3H512.9V389.2H513.9V390.6H514.9V390.8H515.9V390.7H516.9V391.5H517.9V391.4H518.9V391.8H519.9V391.7H520.9V391.9H521.9V392.3H522.9V392.4H523.9V392.7H524.9V393.0H525.9V392.8H526.9V392.8H527.9V392.9H528.9V393.0H529.9V393.3H530.9V393.3H531.9V393.3" fill="none" stroke="#000" stroke-width="1.2"/>
<path d="M427.6 395.5 V265.3 H728.1 V395.5" fill="none" stroke="#000" stroke-width="1.70"/>
<path d="M429.4 395.0 V401.8M451.7 395.0 V399.2M464.8 395.0 V399.2M474.1 395.0 V399.2M481.3 395.0 V399.2M487.1 395.0 V399.2M492.1 395.0 V399.2M496.4 395.0 V399.2M500.2 395.0 V399.2M503.6 395.0 V401.8M525.9 395.0 V399.2M539.0 395.0 V399.2M548.3 395.0 V399.2M555.5 395.0 V399.2M561.3 395.0 V399.2M566.3 395.0 V399.2M570.6 395.0 V399.2M574.4 395.0 V399.2M577.8 395.0 V401.8M600.1 395.0 V399.2M613.2 395.0 V399.2M622.5 395.0 V399.2M629.7 395.0 V399.2M635.5 395.0 V399.2M640.5 395.0 V399.2M644.8 395.0 V399.2M648.6 395.0 V399.2M652.0 395.0 V401.8M674.3 395.0 V399.2M687.4 395.0 V399.2M696.7 395.0 V399.2M703.9 395.0 V399.2M709.7 395.0 V399.2M714.7 395.0 V399.2M719.0 395.0 V399.2M722.8 395.0 V399.2M726.2 395.0 V401.8" stroke="#000" stroke-width="2.20" fill="none"/>
<text transform="translate(417.35 416.40) scale(0.897 0.953)" font-size="14" text-anchor="start">10</text>
<text transform="translate(431.33 410.39) scale(0.897 0.953)" font-size="14" text-anchor="start">0</text>
<text transform="translate(491.55 416.40) scale(0.897 0.953)" font-size="14" text-anchor="start">10</text>
<text transform="translate(505.53 410.39) scale(0.897 0.953)" font-size="14" text-anchor="start">1</text>
<text transform="translate(565.75 416.40) scale(0.897 0.953)" font-size="14" text-anchor="start">10</text>
<text transform="translate(579.73 410.39) scale(0.897 0.953)" font-size="14" text-anchor="start">2</text>
<text transform="translate(639.95 416.40) scale(0.897 0.953)" font-size="14" text-anchor="start">10</text>
<text transform="translate(653.93 410.39) scale(0.897 0.953)" font-size="14" text-anchor="start">3</text>
<text transform="translate(714.15 416.40) scale(0.897 0.953)" font-size="14" text-anchor="start">10</text>
<text transform="translate(728.13 410.39) scale(0.897 0.953)" font-size="14" text-anchor="start">4</text>
<path d="M427.6 393.3 h-7.2M427.6 389.1 h-4.0M427.6 384.9 h-4.0M427.6 380.7 h-4.0M427.6 376.5 h-4.0M427.6 368.1 h-7.2M427.6 363.9 h-4.0M427.6 359.8 h-4.0M427.6 355.6 h-4.0M427.6 351.4 h-4.0M427.6 343.0 h-7.2M427.6 338.8 h-4.0M427.6 334.6 h-4.0M427.6 330.4 h-4.0M427.6 326.2 h-4.0M427.6 317.8 h-7.2M427.6 313.6 h-4.0M427.6 309.4 h-4.0M427.6 305.2 h-4.0M427.6 301.0 h-4.0M427.6 292.7 h-7.2M427.6 288.5 h-4.0M427.6 284.3 h-4.0M427.6 280.1 h-4.0M427.6 275.9 h-4.0M427.6 267.5 h-7.2" stroke="#000" stroke-width="1.90" fill="none"/>
<text transform="translate(417.00 264.70) scale(0.964 0.887) rotate(-90)" font-size="14" text-anchor="middle">150</text>
<text transform="translate(417.00 391.60) scale(0.964 0.887) rotate(-90)" font-size="14" text-anchor="middle">0</text>
<text transform="translate(401.40 330.70) scale(0.964 0.931) rotate(-90)" font-size="14" text-anchor="middle">Counts</text>
<clipPath id="clipD"><rect x="424.6" y="262.3" width="306.5" height="131.7"/></clipPath>
<g clip-path="url(#clipD)">
<path d="M430.8 379.0H431.8V382.9H432.8V386.6H433.8V387.0H434.8V386.1H435.8V385.6H436.8V383.5H437.8V383.3H438.8V383.5H439.8V383.4H440.8V384.5H441.8V384.5H442.8V384.7H443.8V384.6H444.8V382.4H445.8V382.6H446.8V383.2H447.8V383.4H448.8V385.8H449.8V385.9H450.8V383.8H451.8V383.9H452.8V385.7H453.8V385.9H454.8V385.0H455.8V385.2H456.8V386.2H457.8V386.4H458.8V387.1H459.8V387.2H460.8V386.6H461.8V386.7H462.8V386.4H463.8V386.5H464.8V386.5H465.8V386.7H466.8V387.5H467.8V387.7H468.8V387.8H469.8V388.0H470.8V387.7H471.8V387.8H472.8V387.7H473.8V387.4H474.8V387.3H475.8V387.1H476.8V386.1H477.8V385.8H478.8V385.3H479.8V385.1H480.8V386.0H481.8V385.9H482.8V384.5H483.8V384.4H484.8V385.9H485.8V385.8H486.8V386.4H487.8V386.3H488.8V386.3H489.8V386.3H490.8V384.5H491.8V384.4H492.8V384.7H493.8V384.6H494.8V385.9H495.8V385.8H496.8V383.9H497.8V383.7H498.8V385.5H499.8V385.4H500.8V382.8H501.8V382.6H502.8V384.3H503.8V384.1H504.8V381.4H505.8V381.2H506.8V382.8H507.8V382.6H508.8V382.7H509.8V382.4H510.8V381.3H511.8V381.0H512.8V380.9H513.8V380.6H514.8V381.1H515.8V380.9H516.8V380.9H517.8V380.7H518.8V378.1H519.8V377.9H520.8V378.7H521.8V378.5H522.8V376.9H523.8V376.6H524.8V377.3H525.8V377.0H526.8V375.9H527.8V375.5H528.8V375.2H529.8V374.9H530.8V375.9H531.8V375.6H532.8V373.7H533.8V373.5H534.8V373.6H535.8V373.4H536.8V372.8H537.8V372.7H538.8V375.0H539.8V374.8H540.8V372.9H541.8V372.7H542.8V372.0H543.8V371.7H544.8V373.2H545.8V372.9H546.8V373.0H547.8V372.5H548.8V371.2H549.8V370.2H550.8V369.3H551.8V370.2H552.8V371.1H553.8V371.9H554.8V373.4H555.8V373.9H556.8V373.1H557.8V373.6H558.8V375.6H559.8V376.0H560.8V376.0H561.8V376.5H562.8V377.3H563.8V377.4H564.8V377.5H565.8V377.6H566.8V377.5H567.8V377.9H568.8V377.5H569.8V378.0H570.8V378.5H571.8V379.0H572.8V380.1H573.8V381.0H574.8V381.5H575.8V382.5H576.8V381.8H577.8V382.7H578.8V385.7H579.8V386.1H580.8V384.4H581.8V384.8H582.8V386.0H583.8V386.4H584.8V386.8H585.8V387.3H586.8V387.0H587.8V387.6H588.8V389.1H589.8V389.6H590.8V390.1H591.8V390.6H592.8V391.3H593.8V391.4H594.8V391.2H595.8V391.3H596.8V391.1H597.8V391.1H598.8V391.4H599.8V391.5H600.8V391.8H601.8V391.9H602.8V391.7H603.8V391.8H604.8V392.2H605.8V392.4H606.8V392.3H607.8V392.5H608.8V393.0H609.8V393.2H727.2" fill="none" stroke="#08f808" stroke-width="2.8" stroke-linejoin="miter"/>
<rect x="428.1" y="265.3" width="3.9" height="128.7" fill="#08f808"/>
<rect x="431.8" y="321.0" width="1.3" height="73.0" fill="#08f808"/>
</g>
<path d="M428.5 341.9 H724.3" stroke="#000" stroke-width="2.00"/>
<path d="M428.5 329.1 v25.6" stroke="#000" stroke-width="3.2"/>
<path d="M515.9 329.1 v25.6" stroke="#000" stroke-width="2.00"/>
<path d="M724.3 329.1 v25.6" stroke="#000" stroke-width="2.0"/>
<text transform="translate(473.00 332.50) scale(0.969 1.001)" font-size="14" text-anchor="middle" style="stroke-width:0.3px">M1</text>
<text transform="translate(620.50 332.50) scale(0.969 1.001)" font-size="14" text-anchor="middle" style="stroke-width:0.3px">M2</text>
<text transform="translate(576.50 428.60) scale(0.897 0.953)" font-size="14" text-anchor="middle">FITC</text>
<text x="632.7" y="306.6" font-family="Liberation Serif" font-size="17" textLength="67.8" lengthAdjust="spacingAndGlyphs" style="stroke-width:0">59±0.9%</text>
<rect x="256.8" y="612.4" width="293.3" height="2.9" fill="#000"/>
<path d="M261.9 614.0V607.0H262.9V606.5H263.9V605.9H264.9V605.5H265.9V604.2H266.9V603.5H267.9V599.8H268.9V599.5H269.9V599.3H270.9V597.1H271.9V596.3H272.9V592.9H273.9V592.4H274.9V590.8H275.9V590.6H276.9V589.6H277.9V587.2H278.9V586.7H279.9V585.9H280.9V586.1H281.9V584.2H282.9V581.2H283.9V581.3H284.9V578.2H285.9V577.9H286.9V575.3H287.9V574.0H288.9V575.1H289.9V572.5H290.9V571.5H291.9V572.4H292.9V571.1H293.9V568.3H294.9V568.5H295.9V566.0H296.9V564.8H297.9V562.2H298.9V562.5H299.9V560.3H300.9V559.5H301.9V559.7H302.9V560.5H303.9V562.9H304.9V562.3H305.9V561.8H306.9V562.1H307.9V565.4H308.9V568.8H309.9V569.0H310.9V571.4H311.9V571.2H312.9V571.8H313.9V573.7H314.9V573.6H315.9V573.8H316.9V577.3H317.9V580.9H318.9V582.3H319.9V586.5H320.9V585.7H321.9V589.1H322.9V590.9H323.9V590.4H324.9V594.3H325.9V595.8H326.9V598.8H327.9V599.9H328.9V602.4H329.9V603.9H330.9V607.1H331.9V606.5H332.9V608.8H333.9V610.1H334.9V610.7H335.9V610.3H336.9V610.6H337.9V611.1H338.9V611.6H339.9V611.5H340.9V612.2H341.9V612.5H342.9V612.8H343.9V612.6H344.9V613.1H345.9V612.9H346.9V613.1H347.9V613.3H348.9V613.5H349.9V613.5V614.0 Z" fill="#7a24e0" stroke="none"/>
<path d="M261.9 607.0H262.9V606.5H263.9V605.9H264.9V605.5H265.9V604.2H266.9V603.5H267.9V599.8H268.9V599.5H269.9V599.3H270.9V597.1H271.9V596.3H272.9V592.9H273.9V592.4H274.9V590.8H275.9V590.6H276.9V589.6H277.9V587.2H278.9V586.7H279.9V585.9H280.9V586.1H281.9V584.2H282.9V581.2H283.9V581.3H284.9V578.2H285.9V577.9H286.9V575.3H287.9V574.0H288.9V575.1H289.9V572.5H290.9V571.5H291.9V572.4H292.9V571.1H293.9V568.3H294.9V568.5H295.9V566.0H296.9V564.8H297.9V562.2H298.9V562.5H299.9V560.3H300.9V559.5H301.9V559.7H302.9V560.5H303.9V562.9H304.9V562.3H305.9V561.8H306.9V562.1H307.9V565.4H308.9V568.8H309.9V569.0H310.9V571.4H311.9V571.2H312.9V571.8H313.9V573.7H314.9V573.6H315.9V573.8H316.9V577.3H317.9V580.9H318.9V582.3H319.9V586.5H320.9V585.7H321.9V589.1H322.9V590.9H323.9V590.4H324.9V594.3H325.9V595.8H326.9V598.8H327.9V599.9H328.9V602.4H329.9V603.9H330.9V607.1H331.9V606.5H332.9V608.8H333.9V610.1H334.9V610.7H335.9V610.3H336.9V610.6H337.9V611.1H338.9V611.6H339.9V611.5H340.9V612.2H341.9V612.5H342.9V612.8H343.9V612.6H344.9V613.1H345.9V612.9H346.9V613.1H347.9V613.3H348.9V613.5H349.9V613.5" fill="none" stroke="#000" stroke-width="1.2"/>
<path d="M257.7 615.3 V487.6 H549.3 V615.3" fill="none" stroke="#000" stroke-width="1.70"/>
<path d="M259.2 614.8 V621.5M280.9 614.8 V619.0M293.6 614.8 V619.0M302.6 614.8 V619.0M309.6 614.8 V619.0M315.3 614.8 V619.0M320.1 614.8 V619.0M324.3 614.8 V619.0M328.0 614.8 V619.0M331.3 614.8 V621.5M353.0 614.8 V619.0M365.7 614.8 V619.0M374.7 614.8 V619.0M381.7 614.8 V619.0M387.4 614.8 V619.0M392.2 614.8 V619.0M396.4 614.8 V619.0M400.1 614.8 V619.0M403.4 614.8 V621.5M425.1 614.8 V619.0M437.8 614.8 V619.0M446.8 614.8 V619.0M453.8 614.8 V619.0M459.5 614.8 V619.0M464.3 614.8 V619.0M468.5 614.8 V619.0M472.2 614.8 V619.0M475.5 614.8 V621.5M497.2 614.8 V619.0M509.9 614.8 V619.0M518.9 614.8 V619.0M525.9 614.8 V619.0M531.6 614.8 V619.0M536.4 614.8 V619.0M540.6 614.8 V619.0M544.3 614.8 V619.0M547.6 614.8 V621.5" stroke="#000" stroke-width="2.20" fill="none"/>
<text transform="translate(247.50 636.20) scale(0.870 0.936)" font-size="14" text-anchor="start">10</text>
<text transform="translate(261.07 630.30) scale(0.870 0.936)" font-size="14" text-anchor="start">0</text>
<text transform="translate(319.60 636.20) scale(0.870 0.936)" font-size="14" text-anchor="start">10</text>
<text transform="translate(333.17 630.30) scale(0.870 0.936)" font-size="14" text-anchor="start">1</text>
<text transform="translate(391.70 636.20) scale(0.870 0.936)" font-size="14" text-anchor="start">10</text>
<text transform="translate(405.27 630.30) scale(0.870 0.936)" font-size="14" text-anchor="start">2</text>
<text transform="translate(463.80 636.20) scale(0.870 0.936)" font-size="14" text-anchor="start">10</text>
<text transform="translate(477.37 630.30) scale(0.870 0.936)" font-size="14" text-anchor="start">3</text>
<text transform="translate(535.90 636.20) scale(0.870 0.936)" font-size="14" text-anchor="start">10</text>
<text transform="translate(549.47 630.30) scale(0.870 0.936)" font-size="14" text-anchor="start">4</text>
<path d="M257.7 613.3 h-7.2M257.7 609.2 h-4.0M257.7 605.1 h-4.0M257.7 600.9 h-4.0M257.7 596.8 h-4.0M257.7 588.6 h-7.2M257.7 584.5 h-4.0M257.7 580.4 h-4.0M257.7 576.2 h-4.0M257.7 572.1 h-4.0M257.7 563.9 h-7.2M257.7 559.8 h-4.0M257.7 555.7 h-4.0M257.7 551.5 h-4.0M257.7 547.4 h-4.0M257.7 539.2 h-7.2M257.7 535.1 h-4.0M257.7 531.0 h-4.0M257.7 526.9 h-4.0M257.7 522.7 h-4.0M257.7 514.5 h-7.2M257.7 510.4 h-4.0M257.7 506.3 h-4.0M257.7 502.1 h-4.0M257.7 498.0 h-4.0M257.7 489.8 h-7.2" stroke="#000" stroke-width="1.90" fill="none"/>
<text transform="translate(247.00 487.00) scale(0.936 0.871) rotate(-90)" font-size="14" text-anchor="middle">150</text>
<text transform="translate(247.00 611.60) scale(0.936 0.871) rotate(-90)" font-size="14" text-anchor="middle">0</text>
<text transform="translate(232.00 552.00) scale(0.936 0.914) rotate(-90)" font-size="14" text-anchor="middle">Counts</text>
<clipPath id="clipE"><rect x="254.7" y="484.6" width="297.6" height="129.4"/></clipPath>
<g clip-path="url(#clipE)">
<path d="M261.9 605.1H262.9V604.3H263.9V601.9H264.9V601.1H265.9V601.6H266.9V600.7H267.9V600.4H268.9V599.6H269.9V596.6H270.9V595.4H271.9V595.6H272.9V594.3H273.9V591.8H274.9V590.6H275.9V588.9H276.9V587.7H277.9V587.0H278.9V585.6H279.9V585.5H280.9V584.1H281.9V580.9H282.9V579.5H283.9V579.7H284.9V578.3H285.9V576.0H286.9V574.8H287.9V573.7H288.9V573.2H289.9V573.5H290.9V573.0H291.9V572.4H292.9V571.9H293.9V571.6H294.9V571.1H295.9V571.6H296.9V570.6H297.9V569.7H298.9V569.7H299.9V569.6H300.9V571.0H301.9V572.0H302.9V570.7H303.9V568.3H304.9V569.3H305.9V571.7H306.9V573.1H307.9V573.3H308.9V573.6H309.9V573.1H310.9V573.4H311.9V572.9H312.9V573.3H313.9V576.0H314.9V578.0H315.9V580.2H316.9V582.2H317.9V583.1H318.9V584.4H319.9V584.1H320.9V585.4H321.9V588.8H322.9V590.7H323.9V593.0H324.9V595.5H325.9V598.3H326.9V600.6H327.9V602.6H328.9V604.4H329.9V606.2H330.9V607.8H331.9V607.9H332.9V608.5H333.9V608.4H334.9V609.1H335.9V610.0H336.9V610.4H337.9V610.6H338.9V610.8H339.9V611.3H340.9V611.5H341.9V611.6H342.9V611.8H343.9V612.1H344.9V612.3H345.9V612.2H346.9V612.2H347.9V612.3H348.9V612.4H349.9V612.6H350.9V612.7H351.9V612.7H352.9V612.7H353.9V612.8H354.9V612.9H355.9V612.9H356.9V612.9H357.9V612.9H358.9V612.9H359.9V613.1H360.9V613.1H361.9V613.1H362.9V613.2H363.9V613.2H364.9V613.3H365.9V613.3H366.9V613.3H367.9V613.4H368.9V613.4H369.9V613.5H548.4" fill="none" stroke="#08f808" stroke-width="2.8" stroke-linejoin="miter"/>
<rect x="258.3" y="487.6" width="3.2" height="126.4" fill="#08f808"/>
<rect x="261.3" y="543.0" width="1.3" height="71.0" fill="#08f808"/>
</g>
<path d="M258.5 549.6 H548.6" stroke="#000" stroke-width="2.00"/>
<path d="M258.5 537.1 v25.0" stroke="#000" stroke-width="3.2"/>
<path d="M341.3 537.1 v25.0" stroke="#000" stroke-width="3.00"/>
<path d="M548.6 537.1 v25.0" stroke="#000" stroke-width="2.0"/>
<text transform="translate(305.50 531.60) scale(0.940 0.983)" font-size="14" text-anchor="middle" style="stroke-width:0.42px">M1</text>
<text transform="translate(447.80 531.60) scale(0.940 0.983)" font-size="14" text-anchor="middle" style="stroke-width:0.42px">M2</text>
<text x="479.4" y="534" font-size="16.6" textLength="21" lengthAdjust="spacingAndGlyphs" style="stroke-width:0">0.4</text>
<text x="190.3" y="27.9" text-anchor="middle" font-size="24" style="stroke-width:0.9px">A</text>
<text x="561" y="26.4" text-anchor="middle" font-size="21.5" font-weight="bold" textLength="11.6" lengthAdjust="spacingAndGlyphs" style="stroke-width:0">B</text>
<text x="196.5" y="245.8" text-anchor="middle" font-size="24.5" font-weight="bold" textLength="13.6" lengthAdjust="spacingAndGlyphs" style="stroke-width:0">C</text>
<text x="573" y="246.6" text-anchor="middle" font-size="21.5" font-weight="bold" textLength="13.6" lengthAdjust="spacingAndGlyphs" style="stroke-width:0">D</text>
<text x="405" y="462.7" text-anchor="middle" font-size="23.5" font-weight="bold" textLength="10.4" lengthAdjust="spacingAndGlyphs" style="stroke-width:0">E</text>
</svg>
</body></html>
